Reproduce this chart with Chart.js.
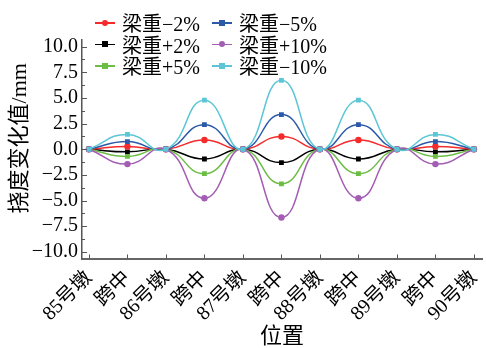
<!DOCTYPE html>
<html>
<head>
<meta charset="utf-8">
<script src="https://cdn.jsdelivr.net/npm/chart.js@4"></script>
<style>
  html, body { margin: 0; padding: 0; background: #fff; overflow: hidden; }
  #wrap { position: relative; width: 486px; height: 348px; }
  #legend { position: absolute; left: 95px; top: 12px; display: grid;
    grid-template-columns: 117px 130px;
    font: 20px 'Liberation Serif', 'Noto Sans CJK SC', serif; color: #000; }
  .item { display: flex; align-items: center; height: 21.6px; white-space: nowrap; }
  .sw { position: relative; width: 20px; height: 10px; margin-right: 7px; flex: none; }
  .sw .ln { position: absolute; left: 0; right: 0; top: 4.25px; height: 1.5px; }
  .sw .mk { position: absolute; left: 7px; top: 2px; width: 6px; height: 6px; }
</style>
</head>
<body>
<div id="wrap">
  <canvas id="chart" width="486" height="348"></canvas>
  <div id="legend"></div>
</div>
<script>
(function(){
  // positions along the bridge
  const positions = ['85号墩','跨中','86号墩','跨中','87号墩','跨中','88号墩','跨中','89号墩','跨中','90号墩'];

  // deflection change (mm) per load case
  const minus2  = [0, 0.28, 0, 0.9, 0, 1.25, 0, 0.9, 0, 0.28, 0];
  const minus5  = [0, 0.75, 0, 2.4, 0, 3.38, 0, 2.4, 0, 0.75, 0];
  const plus2   = [0, -0.25, 0, -0.95, 0, -1.3, 0, -0.95, 0, -0.25, 0];
  const plus10  = [0, -1.45, 0, -4.78, 0, -6.65, 0, -4.78, 0, -1.45, 0];
  const plus5   = [0, -0.7, 0, -2.38, 0, -3.37, 0, -2.38, 0, -0.7, 0];
  const minus10 = [0, 1.45, 0, 4.78, 0, 6.72, 0, 4.78, 0, 1.45, 0];

  const yTicks = [-10, -7.5, -5, -2.5, 0, 2.5, 5, 7.5, 10];

  const FONT = "'Liberation Serif','Noto Sans CJK SC',serif";
  Chart.defaults.font.family = FONT;
  Chart.defaults.color = '#000';

  // legend order (row by row, two columns)
  const series = [
    { label: '梁重−2%',  data: minus2,  color: '#f52a2a', shape: 'circle', order: 4 },
    { label: '梁重−5%',  data: minus5,  color: '#2c5aa8', shape: 'rect',   order: 3 },
    { label: '梁重+2%',  data: plus2,   color: '#000000', shape: 'rect',   order: 5 },
    { label: '梁重+10%', data: plus10,  color: '#a35db3', shape: 'circle', order: 1 },
    { label: '梁重+5%',  data: plus5,   color: '#6cbd45', shape: 'rect',   order: 2 },
    { label: '梁重−10%', data: minus10, color: '#5cc6d6', shape: 'rect',   order: 0 }
  ];

  const legend = document.getElementById('legend');
  series.forEach(s => {
    const item = document.createElement('div');
    item.className = 'item';
    const sw = document.createElement('span');
    sw.className = 'sw';
    const ln = document.createElement('span');
    ln.className = 'ln';
    ln.style.background = s.color;
    const mk = document.createElement('span');
    mk.className = 'mk';
    mk.style.background = s.color;
    if (s.shape === 'circle') mk.style.borderRadius = '50%';
    sw.appendChild(ln); sw.appendChild(mk);
    const txt = document.createElement('span');
    txt.textContent = s.label;
    item.appendChild(sw); item.appendChild(txt);
    legend.appendChild(item);
  });

  // inward tick marks (major + minor on y)
  const tickMarks = {
    id: 'tickMarks',
    afterDraw(chart){
      const c = chart.ctx, x = chart.scales.x, y = chart.scales.y, a = chart.chartArea;
      c.save();
      c.strokeStyle = '#555';
      c.lineWidth = 1;
      c.beginPath();
      positions.forEach((p, i) => {
        const px = Math.round(x.getPixelForValue(i)) + 0.5;
        c.moveTo(px, a.bottom); c.lineTo(px, a.bottom - 4);
      });
      yTicks.forEach(v => {
        const py = Math.round(y.getPixelForValue(v)) + 0.5;
        c.moveTo(a.left, py); c.lineTo(a.left + 5, py);
        if (v < 10) {
          const pm = Math.round(y.getPixelForValue(v + 1.25)) + 0.5;
          c.moveTo(a.left, pm); c.lineTo(a.left + 3, pm);
        }
      });
      c.stroke();
      c.restore();
    }
  };

  new Chart(document.getElementById('chart'), {
    type: 'line',
    data: {
      datasets: series.map(s => ({
        label: s.label,
        data: s.data.map((v, i) => ({ x: i, y: v })),
        borderColor: s.color,
        backgroundColor: s.color,
        borderWidth: 1.5,
        pointStyle: s.shape,
        pointRadius: s.shape === 'circle' ? 3.2 : 3.4,
        pointBorderWidth: 0,
        tension: 0.5,
        order: s.order
      }))
    },
    options: {
      responsive: false,
      animation: false,
      devicePixelRatio: 1,
      layout: { padding: { top: 40, left: 0, right: 0, bottom: 0 } },
      plugins: { legend: { display: false }, tooltip: { enabled: false } },
      scales: {
        x: {
          type: 'linear',
          min: -0.18,
          max: 10.21,
          grid: { display: false, drawTicks: false },
          border: { display: true, color: '#666', width: 2 },
          ticks: {
            stepSize: 1,
            includeBounds: false,
            autoSkip: false,
            maxRotation: 45,
            minRotation: 45,
            padding: 8,
            font: { size: 20 },
            callback: v => positions[v] ?? ''
          },
          title: { display: true, text: '位置', font: { size: 22, lineHeight: 1 }, padding: { top: 0, bottom: 0 } },
          afterFit(s){ s.height = 89.5; s.paddingLeft = 0; s.paddingRight = 0; }
        },
        y: {
          min: -10.65,
          max: 10.65,
          grid: { display: false, drawTicks: false },
          border: { display: true, color: '#555', width: 1.5 },
          ticks: {
            stepSize: 2.5,
            includeBounds: false,
            padding: 4,
            font: { size: 20 },
            callback: v => Number(v).toFixed(1).replace('-', '−')
          },
          title: { display: true, text: '\u2003挠度变化值/mm', font: { size: 22, lineHeight: 1 }, padding: { top: 9, bottom: 0 } },
          afterFit(s){ s.width = 82; s.paddingTop = 0; s.paddingBottom = 0; }
        }
      }
    },
    plugins: [tickMarks]
  });
})();
</script>
</body>
</html>
